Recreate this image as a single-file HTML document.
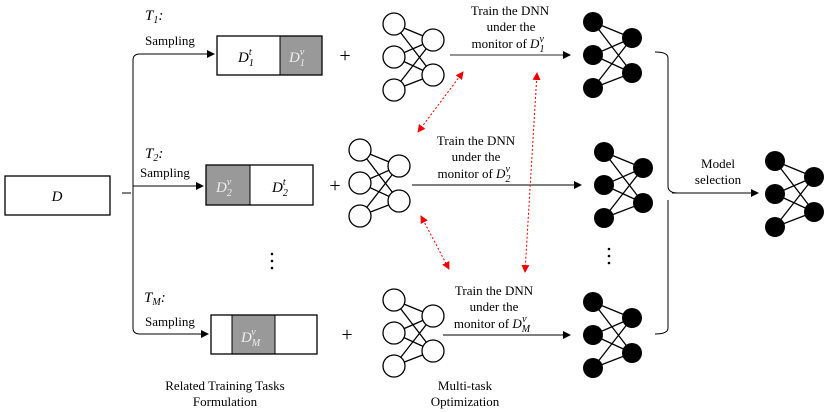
<!DOCTYPE html>
<html><head><meta charset="utf-8"><style>
html,body{margin:0;padding:0;background:#fff}
svg{display:block}
text{font-family:"Liberation Serif",serif;font-size:13px;fill:#000}
.i{font-style:italic}
.s{font-size:10px}
.p{font-size:20px}
.t{font-size:15px}
.b{font-size:15px}
.w{fill:#eee}
</style></head><body>
<svg width="830" height="412" viewBox="0 0 830 412" xmlns="http://www.w3.org/2000/svg">
<defs>
<marker id="a" markerWidth="8" markerHeight="8" refX="7" refY="4" orient="auto" markerUnits="userSpaceOnUse"><path d="M0,0 L8,4 L0,8z" fill="#000"/></marker>
<marker id="r" markerWidth="8" markerHeight="8" refX="7" refY="4" orient="auto-start-reverse" markerUnits="userSpaceOnUse"><path d="M0,0 L8,4 L0,8z" fill="#e00"/></marker>
<g id="nn" stroke="#000" stroke-width="1.3">
<line x1="0" y1="0" x2="39" y2="16"/><line x1="0" y1="0" x2="39" y2="51"/>
<line x1="0" y1="33" x2="39" y2="16"/><line x1="0" y1="33" x2="39" y2="51"/>
<line x1="0" y1="66" x2="39" y2="16"/><line x1="0" y1="66" x2="39" y2="51"/>
</g>
</defs>
<rect x="5" y="176" width="105" height="39" fill="#fff" stroke="#000" stroke-width="1.3"/>
<text x="57" y="201" class="i b" text-anchor="middle">D</text>
<path d="M122,193 L131,193 M133,60 Q133,54 140,54 L213,54 M133,60 L133,328 Q133,334 140,334 L205,334 M133,186 L200,186" fill="none" stroke="#000" stroke-width="1"/>
<line x1="200" y1="54" x2="214" y2="54" stroke="#000" marker-end="url(#a)"/>
<line x1="190" y1="186" x2="203" y2="186" stroke="#000" marker-end="url(#a)"/>
<line x1="195" y1="334" x2="208" y2="334" stroke="#000" marker-end="url(#a)"/>
<text x="145" y="20" class="i t">T<tspan class="s" dy="3">1</tspan><tspan dy="-3">:</tspan></text>
<text x="145" y="45">Sampling</text>
<text x="145" y="158" class="i t">T<tspan class="s" dy="3">2</tspan><tspan dy="-3">:</tspan></text>
<text x="140" y="177">Sampling</text>
<text x="144" y="302" class="i t">T<tspan class="s" dy="3">M</tspan><tspan dy="-3">:</tspan></text>
<text x="145" y="326">Sampling</text>
<rect x="280" y="36" width="42" height="39" fill="#999"/>
<rect x="217" y="36" width="105" height="39" fill="none" stroke="#000" stroke-width="1.3"/>
<line x1="280" y1="36" x2="280" y2="75" stroke="#000"/>
<text x="238" y="62" class="i b">D<tspan class="s" dy="4">1</tspan><tspan class="s" dx="-5" dy="-11">t</tspan></text>
<text x="289" y="62" class="i b w">D<tspan class="s" dy="4">1</tspan><tspan class="s" dx="-5" dy="-11">v</tspan></text>
<rect x="206" y="165" width="44" height="40" fill="#999"/>
<rect x="206" y="165" width="107" height="40" fill="none" stroke="#000" stroke-width="1.3"/>
<line x1="250" y1="165" x2="250" y2="205" stroke="#000"/>
<text x="216" y="192" class="i b w">D<tspan class="s" dy="4">2</tspan><tspan class="s" dx="-5" dy="-11">v</tspan></text>
<text x="272" y="192" class="i b">D<tspan class="s" dy="4">2</tspan><tspan class="s" dx="-5" dy="-11">t</tspan></text>
<rect x="232" y="315" width="43" height="39" fill="#999"/>
<rect x="211" y="315" width="106" height="39" fill="none" stroke="#000" stroke-width="1.3"/>
<line x1="232" y1="315" x2="232" y2="354" stroke="#000"/><line x1="275" y1="315" x2="275" y2="354" stroke="#000"/>
<text x="241" y="342" class="i b w">D<tspan class="s" dy="4">M</tspan><tspan class="s" dx="-9" dy="-11">v</tspan></text>
<text x="345" y="62" text-anchor="middle" class="p">+</text>
<text x="335" y="192" text-anchor="middle" class="p">+</text>
<text x="347" y="341" text-anchor="middle" class="p">+</text>
<g fill="#fff" stroke="#000" stroke-width="1.3">
<use href="#nn" x="394" y="24"/>
<circle cx="394" cy="24" r="11"/><circle cx="394" cy="57" r="11"/><circle cx="394" cy="90" r="11"/>
<circle cx="433" cy="40" r="11"/><circle cx="433" cy="75" r="11"/>
<use href="#nn" x="360" y="150"/>
<circle cx="360" cy="150" r="11"/><circle cx="360" cy="183" r="11"/><circle cx="360" cy="216" r="11"/>
<circle cx="399" cy="166" r="11"/><circle cx="399" cy="201" r="11"/>
<use href="#nn" x="394" y="300"/>
<circle cx="394" cy="300" r="11"/><circle cx="394" cy="333" r="11"/><circle cx="394" cy="366" r="11"/>
<circle cx="433" cy="316" r="11"/><circle cx="433" cy="351" r="11"/>
</g>
<g fill="#000">
<use href="#nn" x="593" y="22"/><circle cx="593" cy="22" r="10"/><circle cx="593" cy="55" r="10"/><circle cx="593" cy="88" r="10"/><circle cx="632" cy="38" r="10"/><circle cx="632" cy="73" r="10"/>
<use href="#nn" x="604" y="152"/><circle cx="604" cy="152" r="10"/><circle cx="604" cy="185" r="10"/><circle cx="604" cy="218" r="10"/><circle cx="643" cy="168" r="10"/><circle cx="643" cy="203" r="10"/>
<use href="#nn" x="593" y="302"/><circle cx="593" cy="302" r="10"/><circle cx="593" cy="335" r="10"/><circle cx="593" cy="368" r="10"/><circle cx="632" cy="318" r="10"/><circle cx="632" cy="353" r="10"/>
<use href="#nn" x="775" y="161"/><circle cx="775" cy="161" r="10"/><circle cx="775" cy="194" r="10"/><circle cx="775" cy="227" r="10"/><circle cx="814" cy="177" r="10"/><circle cx="814" cy="212" r="10"/>
</g>
<line x1="450" y1="55" x2="570" y2="55" stroke="#555" stroke-width="1.2" marker-end="url(#a)"/>
<line x1="412" y1="185" x2="581" y2="185" stroke="#000" stroke-width="1" marker-end="url(#a)"/>
<line x1="443" y1="335" x2="570" y2="335" stroke="#000" stroke-width="1" marker-end="url(#a)"/>
<g text-anchor="middle">
<text x="510" y="15">Train the DNN</text><text x="511" y="31">under the</text><text x="508" y="48">monitor of <tspan class="i">D</tspan><tspan class="s i" dy="4">1</tspan><tspan class="s i" dx="-5" dy="-10">v</tspan></text>
<text x="476" y="145">Train the DNN</text><text x="476" y="161">under the</text><text x="474" y="178">monitor of <tspan class="i">D</tspan><tspan class="s i" dy="4">2</tspan><tspan class="s i" dx="-5" dy="-10">v</tspan></text>
<text x="494" y="295">Train the DNN</text><text x="494" y="311">under the</text><text x="492" y="328">monitor of <tspan class="i">D</tspan><tspan class="s i" dy="4">M</tspan><tspan class="s i" dx="-8" dy="-10">v</tspan></text>
<text x="718" y="168">Model</text><text x="718" y="184">selection</text>
<text x="225" y="390">Related Training Tasks</text><text x="225" y="406">Formulation</text>
<text x="465" y="390">Multi-task</text><text x="465" y="406">Optimization</text>
</g>
<g stroke="#e00" stroke-width="1" stroke-dasharray="2,2" fill="none">
<line x1="463" y1="72" x2="418" y2="132" marker-start="url(#r)" marker-end="url(#r)"/>
<line x1="537" y1="73" x2="525" y2="272" marker-start="url(#r)" marker-end="url(#r)"/>
<line x1="421" y1="216" x2="449" y2="269" marker-start="url(#r)" marker-end="url(#r)"/>
</g>
<path d="M655,52 Q668,52 668,58 L668,186 Q668,193 678,193 M668,200 L668,328 Q668,334 655,334" fill="none" stroke="#000" stroke-width="1"/>
<line x1="672" y1="193" x2="758" y2="193" stroke="#000" marker-end="url(#a)"/>
<g fill="#000"><circle cx="272" cy="254" r="1.3"/><circle cx="272" cy="261" r="1.3"/><circle cx="272" cy="268" r="1.3"/>
<circle cx="609" cy="249" r="1.3"/><circle cx="609" cy="256" r="1.3"/><circle cx="609" cy="263" r="1.3"/></g>
</svg>
</body></html>
